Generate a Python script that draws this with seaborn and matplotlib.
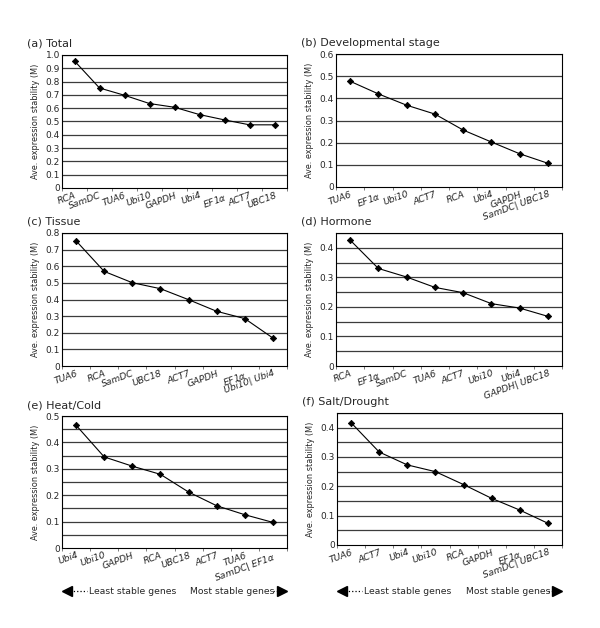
import numpy as np
import pandas as pd
import matplotlib.pyplot as plt
import seaborn as sns
from matplotlib.lines import Line2D

# gene rankings (least stable -> most stable) and average expression stability M
total_genes = ['RCA', 'SamDC', 'TUA6', 'Ubi10', 'GAPDH', 'Ubi4', 'EF1$\\alpha$', 'ACT7', 'UBC18']
total_m = [0.955, 0.752, 0.697, 0.635, 0.607, 0.552, 0.512, 0.475, 0.475]

dev_genes = ['TUA6', 'EF1$\\alpha$', 'Ubi10', 'ACT7', 'RCA', 'Ubi4', 'GAPDH', 'SamDC| UBC18']
dev_m = [0.477, 0.42, 0.369, 0.329, 0.257, 0.203, 0.15, 0.107]

tissue_genes = ['TUA6', 'RCA', 'SamDC', 'UBC18', 'ACT7', 'GAPDH', 'EF1$\\alpha$', 'Ubi10| Ubi4']
tissue_m = [0.753, 0.569, 0.501, 0.465, 0.399, 0.329, 0.285, 0.168]

hormone_genes = ['RCA', 'EF1$\\alpha$', 'SamDC', 'TUA6', 'ACT7', 'Ubi10', 'Ubi4', 'GAPDH| UBC18']
hormone_m = [0.426, 0.33, 0.301, 0.266, 0.248, 0.211, 0.196, 0.168]

heat_genes = ['Ubi4', 'Ubi10', 'GAPDH', 'RCA', 'UBC18', 'ACT7', 'TUA6', 'SamDC| EF1$\\alpha$']
heat_m = [0.465, 0.345, 0.31, 0.279, 0.212, 0.16, 0.126, 0.097]

salt_genes = ['TUA6', 'ACT7', 'Ubi4', 'Ubi10', 'RCA', 'GAPDH', 'EF1$\\alpha$', 'SamDC| UBC18']
salt_m = [0.417, 0.317, 0.273, 0.25, 0.206, 0.159, 0.119, 0.074]

titles = ['(a) Total', '(b) Developmental stage', '(c) Tissue',
          '(d) Hormone', '(e) Heat/Cold', '(f) Salt/Drought']
ymax = [1.0, 0.6, 0.8, 0.45, 0.5, 0.45]
grid_step = [0.1, 0.1, 0.1, 0.05, 0.05, 0.05]

panels = [(total_genes, total_m), (dev_genes, dev_m), (tissue_genes, tissue_m),
          (hormone_genes, hormone_m), (heat_genes, heat_m), (salt_genes, salt_m)]

sns.set_style('white')
plt.rcParams['font.family'] = ['DejaVu Sans']
plt.rcParams['mathtext.fontset'] = 'dejavusans'

fig = plt.figure(figsize=(6, 6.28), dpi=100)

# axes boxes in pixels: left, top, right, bottom
boxes = [(62, 55, 287, 188), (336, 54, 562, 187),
         (62, 233, 287, 366), (336, 233, 562, 366),
         (62, 416, 287, 548), (337, 413, 562, 545)]

W, H = 600, 628
for i, ((genes, vals), box) in enumerate(zip(panels, boxes)):
    l, t, r, b = box
    ax = fig.add_axes([l / W, 1 - b / H, (r - l) / W, (b - t) / H])
    df = pd.DataFrame({'gene': genes, 'M': vals})
    sns.pointplot(data=df, x='gene', y='M', color='black', markers='D',
                  markersize=3.2, linewidth=0.8, errorbar=None, ax=ax)
    n = len(genes)
    ax.set_xlim(-0.5, n - 0.5)
    ax.set_ylim(0, ymax[i])

    # y ticks every 0.1, grid lines every grid_step
    yt = np.round(np.arange(0, ymax[i] + 1e-9, 0.1), 2)
    ax.set_yticks(yt)
    ax.set_yticklabels(['0' if v == 0 else f'{v:.1f}' for v in yt], fontsize=6.5)
    gl = np.round(np.arange(grid_step[i], ymax[i] + 1e-9, grid_step[i]), 2)
    for g in gl:
        ax.axhline(g, color='#3c3c3c', lw=0.9, zorder=0)
    ax.tick_params(axis='y', length=0, pad=1.5)

    # labels at category centres, tick marks at boundaries
    ax.set_xticks(np.arange(n))
    ax.set_xticklabels(genes, rotation=20, ha='right', rotation_mode='anchor',
                       fontsize=6.6, style='italic')
    ax.tick_params(axis='x', length=0, pad=2)
    ax.set_xticks(np.arange(n + 1) - 0.5, minor=True)
    ax.tick_params(axis='x', which='minor', length=2.5, width=0.6, direction='out',
                   color='#666666', bottom=True)

    ax.set_xlabel('')
    ax.set_ylabel('Ave. expression stability (M)', fontsize=5.9, labelpad=4)
    for s in ax.spines.values():
        s.set_visible(True)
        s.set_color('black')
        s.set_linewidth(0.8)

    fig.text((l - 35) / W, 1 - (t - 8) / H, titles[i], fontsize=8,
             ha='left', va='baseline')

# bottom stability arrows under (e) and (f)
for l, r in [(62, 287), (337, 562)]:
    y = 1 - 591 / H
    fig.add_artist(Line2D([(l + 8) / W, (l + 25) / W], [y, y], color='black',
                          lw=0.9, ls=':', transform=fig.transFigure))
    fig.add_artist(Line2D([(l + 5) / W], [y], marker='<', ms=7.5, color='black',
                          transform=fig.transFigure))
    fig.text((l + 27) / W, y, 'Least stable genes', fontsize=6.7, ha='left', va='center')
    fig.text((r - 12) / W, y, 'Most stable genes', fontsize=6.7, ha='right', va='center')
    fig.add_artist(Line2D([(r - 14) / W, (r - 7) / W], [y, y], color='black',
                          lw=0.9, ls=':', transform=fig.transFigure))
    fig.add_artist(Line2D([(r - 5) / W], [y], marker='>', ms=7.5, color='black',
                          transform=fig.transFigure))

fig.savefig('out.png', dpi=100)
